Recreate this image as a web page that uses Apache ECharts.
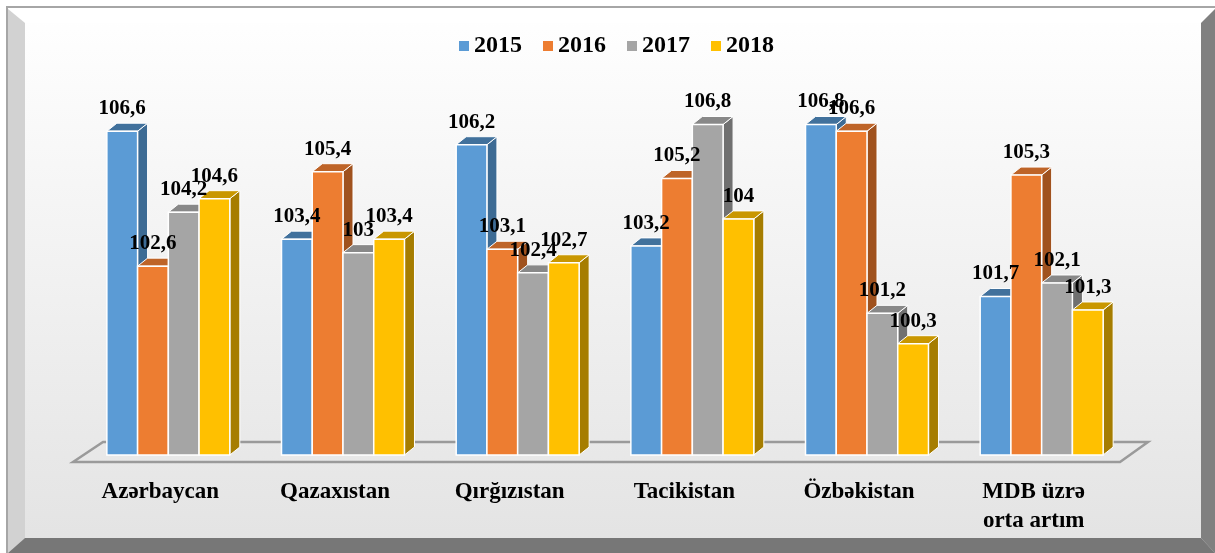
<!DOCTYPE html>
<html><head><meta charset="utf-8">
<script src="https://cdn.jsdelivr.net/npm/echarts@6/dist/echarts.min.js"></script>
<style>html,body{margin:0;padding:0;background:#fff}#c{width:1215px;height:553px}</style>
</head><body><div id="c"></div>
<script>
const categories = ['Azərbaycan','Qazaxıstan','Qırğızıstan','Tacikistan','Özbəkistan','MDB üzrə\norta artım'];
const years = ['2015','2016','2017','2018'];
const v2015 = [106.6,103.4,106.2,103.2,106.8,101.7];
const v2016 = [102.6,105.4,103.1,105.2,106.6,105.3];
const v2017 = [104.2,103.0,102.4,106.8,101.2,102.1];
const v2018 = [104.6,103.4,102.7,104.0,100.3,101.3];
const seriesValues = [v2015, v2016, v2017, v2018];
const yMin = 97, yMax = 108;

const frontColors = ['#5B9BD5','#ED7D31','#A5A5A5','#FFC000'];
const sideColors  = ['#3D6B94','#A0521E','#707070','#A67D00'];
const topColors   = ['#41719C','#BE6428','#888888','#C99700'];
const FONT = "'Liberation Serif','Times New Roman',serif";
const DX = 10, DY = 8, SHIFT = 8;

function geom(si, api){
  const ci = api.value(0), v = api.value(1);
  const t = api.coord([ci, v]);
  const b = api.coord([ci, yMin]);
  const band = api.size([1, 0])[0];
  const bw = band * 0.176;
  const x0 = t[0] + SHIFT - 2 * bw + si * bw;
  return {x0, bw, yt: t[1], yb: b[1], v};
}

function barRender(si){
  return function(params, api){
    const g = geom(si, api);
    const {x0, bw, yt, yb} = g;
    return {
      type: 'group',
      children: [
        {type:'polygon', shape:{points:[[x0+bw,yt],[x0+bw+DX,yt-DY],[x0+bw+DX,yb-DY],[x0+bw,yb]]},
         style:{fill:sideColors[si], stroke:'#fff', lineWidth:1}},
        {type:'polygon', shape:{points:[[x0,yt],[x0+DX,yt-DY],[x0+bw+DX,yt-DY],[x0+bw,yt]]},
         style:{fill:topColors[si], stroke:'#fff', lineWidth:1}},
        {type:'rect', shape:{x:x0, y:yt, width:bw, height:yb-yt},
         style:{fill:frontColors[si], stroke:'#fff', lineWidth:1.5}}
      ]
    };
  };
}
function labelRender(si){
  return function(params, api){
    const g = geom(si, api);
    return {
      type:'text',
      style:{x:g.x0 + g.bw/2, y:g.yt - 12, text:String(g.v).replace('.', ','),
        align:'center', verticalAlign:'bottom',
        font:'bold 21px ' + FONT, fill:'#000'}
    };
  };
}

const series = [];
years.forEach((y, si) => {
  const data = seriesValues[si].map((v, ci) => [ci, v]);
  series.push({name:y, type:'custom', renderItem:barRender(si), data, z:2,
    itemStyle:{color:frontColors[si]}, encode:{x:0, y:1}});
});
years.forEach((y, si) => {
  const data = seriesValues[si].map((v, ci) => [ci, v]);
  series.push({name:y, type:'custom', renderItem:labelRender(si), data, z:5,
    itemStyle:{color:frontColors[si]}, encode:{x:0, y:1}, silent:true});
});

const floorColor = '#9a9a9a';
const chart = echarts.init(document.getElementById('c'));
chart.setOption({
  animation:false,
  backgroundColor:'#ffffff',
  graphic:[
    {type:'rect', shape:{x:8,y:9,width:1207,height:544}, style:{fill:{type:'linear',x:0,y:0,x2:0,y2:1,colorStops:[{offset:0,color:'#ffffff'},{offset:1,color:'#e3e3e3'}]}}, z:-10},
    {type:'polygon', shape:{points:[[8,9],[1215,9],[1201,23],[25,23]]}, style:{fill:'#ffffff'}, z:-9},
    {type:'polygon', shape:{points:[[8,9],[25,23],[25,538],[8,553]]}, style:{fill:'#d2d2d2'}, z:-9},
    {type:'polygon', shape:{points:[[1215,9],[1215,553],[1201,538],[1201,23]]}, style:{fill:'#808080'}, z:-9},
    {type:'polygon', shape:{points:[[8,553],[1215,553],[1201,538],[25,538]]}, style:{fill:'#777777'}, z:-9},
    {type:'polyline', shape:{points:[[7,553],[7,7],[1215,7]]}, style:{stroke:'#a6a6a6', lineWidth:2, fill:null}, z:-8},
    {type:'polygon', shape:{points:[[73,462],[103,442],[1148,442],[1120,462]]}, style:{fill:null, stroke:floorColor, lineWidth:2.5}, z:1}
  ],
  legend:{
    data:years, top:34, left:459, padding:0, icon:'rect', itemWidth:10, itemHeight:10, itemGap:21,
    textStyle:{fontFamily:FONT, fontWeight:'bold', fontSize:24, color:'#000'}
  },
  grid:{left:73, right:94, top:84, bottom:98},
  xAxis:{type:'category', data:categories,
    axisLine:{show:false}, axisTick:{show:false}, splitLine:{show:false},
    axisLabel:{interval:0, margin:23, color:'#000', fontFamily:FONT, fontWeight:'bold', fontSize:23, lineHeight:29}},
  yAxis:{type:'value', min:yMin, max:yMax, show:false, splitLine:{show:false}},
  series
});
</script></body></html>
